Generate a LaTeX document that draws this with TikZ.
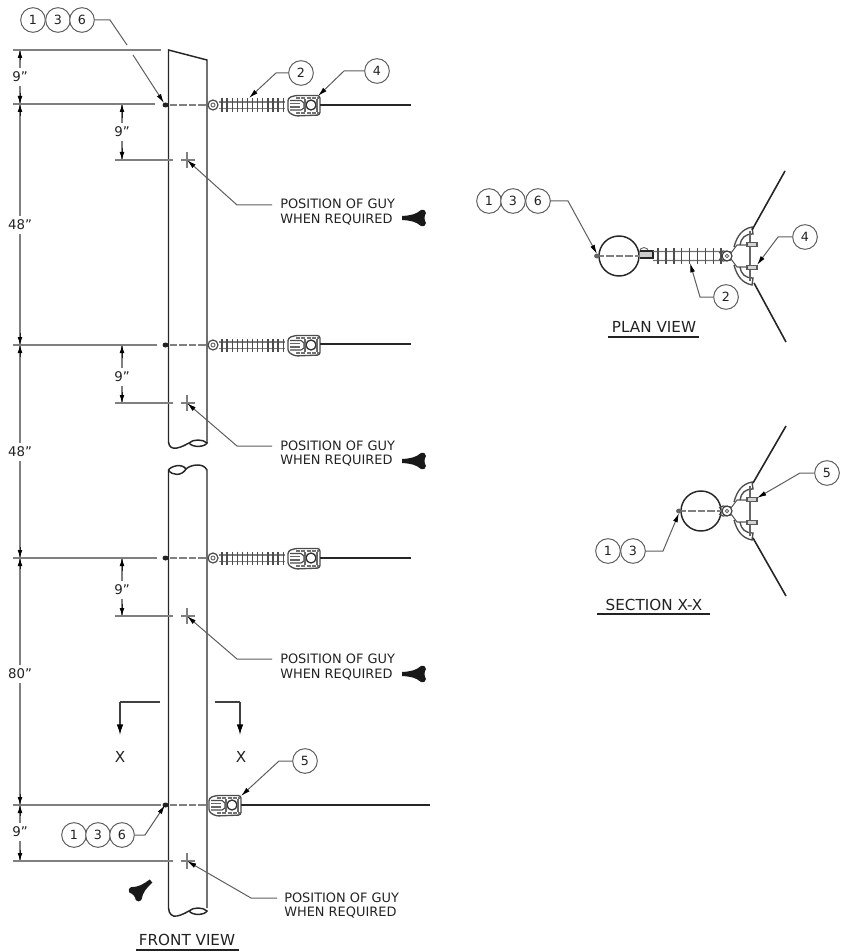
\documentclass[tikz,border=0pt]{standalone}
\usepackage{fontspec}
\setmainfont{DejaVu Sans}
\usetikzlibrary{arrows.meta}
\definecolor{ink}{HTML}{222222}
\definecolor{ext}{HTML}{808080}
\definecolor{lead}{HTML}{5E5E5E}
\newcommand{\guytxt}{POSITION OF GUY\\WHEN REQUIRED}
\tikzset{
  x=0.75pt,y=-0.75pt,
  balloon/.style={circle,draw=lead,line width=0.75pt,fill=white,minimum size=18.5pt,inner sep=0pt,text=ink,font=\fontsize{9.5}{10}\selectfont},
  polel/.style={draw=black!85,line width=1.1pt},
  extl/.style={draw=ext,line width=1pt},
  diml/.style={draw=ext,line width=0.9pt},
  dimarrow/.style={-{Latex[length=6pt,width=3.6pt,color=black]},draw=ink,line width=0.7pt},
  leader/.style={draw=lead,line width=0.75pt,-{Latex[length=7pt,width=3.6pt,color=black]}},
  wire/.style={draw=black!85,line width=1.2pt},
  lbl/.style={text=ink,font=\fontsize{10}{11}\selectfont,inner sep=0pt},
  guylbl/.style={text=ink,font=\fontsize{9.7}{11.2}\selectfont,align=left,anchor=west,inner sep=0pt},
  ttl/.style={text=ink,font=\fontsize{11.4}{12}\selectfont,inner sep=0pt},
  bolt/.style={draw=ext,line width=1.5pt,dash pattern=on 5.5pt off 1.6pt},
  guymark/.pic={\fill[black!90] (0,-2) .. controls (8,-2.5) and (14,-3.5) .. (19,-8) .. controls (22,-9) and (24,-7) .. (24,-5) .. controls (22,-2) and (22,2) .. (24,5) .. controls (24,7) and (22,9) .. (19,8) .. controls (14,3.5) and (8,2.5) .. (0,2) -- cycle;},
  clamp/.pic={
    \draw[draw=black!70,line width=1pt,fill=white,rounded corners=2pt] (1,-7) -- (8,-9.5) -- (33,-9.5) -- (33,10) -- (8,11) -- (1,7) -- cycle;
    \draw[draw=black!70,line width=0.9pt] (3,-4.5) -- (14,-4.5) -- (17,-2) -- (17,3) -- (14,5) -- (3,5);
    \draw[draw=black!60,line width=0.8pt] (3,-1.5) -- (13,-1.5) (3,2) -- (13,2);
    \draw[draw=black!80,line width=1pt] (24,0) circle[radius=5];
    \draw[draw=black!55,line width=1.4pt,dash pattern=on 3pt off 1pt] (9,-7) -- (32,-7) (9,8) -- (32,8);
    \draw[draw=black!60,line width=0.8pt] (30,-6) -- (30,7) (18,-6) -- (18,7);
  },
  insul/.pic={
    \draw[draw=black!70,line width=0.9pt] (6,0) circle[radius=5];
    \draw[draw=black!60,line width=0.7pt] (6,0) circle[radius=2];
    \draw[draw=black!50,line width=0.8pt] (12,-3) -- (78,-3) (12,3.5) -- (78,3.5);
    \foreach \i in {0,...,12} \draw[draw=black!70,line width=1pt] ({15+\i*5.1},-6.5) -- ({15+\i*5.1},7);
  },
  plansul/.pic={
    \draw[draw=black!60,line width=0.7pt] (4,-4) circle[radius=4.5];
    \draw[draw=black!85,line width=1.1pt,fill=ext!40] (0,-5) -- (13,-5) -- (13,2) -- (0,2);
    \draw[draw=black!55,line width=0.8pt] (13,-4.5) -- (80,-4.5) -- (87,-2) (13,4.5) -- (80,4.5) -- (87,2);
    \foreach \i in {0,...,8} \draw[draw=black!70,line width=1.1pt] ({18+\i*7.9},-8) -- ({18+\i*7.9},8);
  },
  fan/.pic={
    \draw[draw=black!70,line width=0.9pt] (-8,-3) -- (-4,-5) -- (4,-4) (-8,3) -- (-4,5) -- (4,4);
    \draw[draw=black!75,line width=0.9pt,fill=white] (0,0) circle[radius=5];
    \draw[draw=black!60,line width=0.7pt] (0,0) circle[radius=1.8];
    \draw[draw=black!65,line width=0.8pt] (4,-3) -- (10,-11) -- (24,-11) (4,3) -- (10,11) -- (24,11);
    \draw[draw=black!70,line width=1pt] (7,-9) .. controls (10,-20) and (15,-27) .. (25,-29) -- (26,-22) .. controls (18,-22) and (14,-18) .. (13,-11);
    \draw[draw=black!70,line width=1pt] (7,9) .. controls (10,20) and (15,27) .. (25,29) -- (26,22) .. controls (18,22) and (14,18) .. (13,11);
    \draw[draw=black!60,line width=0.8pt] (23,-25) -- (23,25);
    \draw[draw=black!65,line width=0.8pt,fill=ext!35] (20,-13.5) rectangle (30,-9.5) (20,9.5) rectangle (30,13.5);
  },
}
\begin{document}
\begin{tikzpicture}
\useasboundingbox (0,0) rectangle (843,952);
% levels
\foreach \n/\yy in {top/50,a/104,ag/160,b/345,bg/403,c/558,cg/616,d/805,dg/861}{
  \coordinate (L\n) at (20,\yy);
  \coordinate (M\n) at (122,\yy);
  \coordinate (G\n) at (187,\yy);
}
% poles
\draw[polel] (168.5,442) -- (168.5,50) -- (207,60) -- (207,443);
\draw[polel] (168.5,442) .. controls (169,447) and (172,449) .. (177,448) .. controls (182,447) and (185,445) .. (189,443) .. controls (193,439) and (203,439) .. (207,443) .. controls (205,447) and (193,448) .. (189,443);
\draw[polel] (168.5,908) -- (168.5,470) .. controls (171,466) and (182,463) .. (186,469) .. controls (190,465) and (203,462) .. (207,470) -- (207,908);
\draw[polel] (168.5,470) .. controls (172,476) and (182,476) .. (186,469);
\draw[polel] (168.5,908) .. controls (169,914) and (172,917) .. (177,916) .. controls (182,915) and (185,913) .. (189,911) .. controls (193,907) and (203,907) .. (207,911) .. controls (205,915) and (193,916) .. (189,911);
% extension lines
\draw[extl] (13,50) -- (161,50);
\draw[extl] (13,104) -- (155,104);
\draw[extl] (13,345) -- (157,345);
\draw[extl] (13,558) -- (157,558);
\draw[extl] (13,805) -- (161,805);
\draw[extl] (13,861) -- (173,861);
\foreach \yy in {160,403,616}{ \draw[extl] (115,\yy) -- (173,\yy); }
\foreach \yy in {160,403,616,861}{
  \draw[extl] (181,\yy) -- (195,\yy);
  \draw[extl] (187,\yy-8) -- (187,\yy+8);
}
% left dimension chain
\node[lbl] (d1) at (20,77) {9"};
\node[lbl] (d2) at (20,225) {48"};
\node[lbl] (d3) at (20,452) {48"};
\node[lbl] (d4) at (20,674) {80"};
\node[lbl] (d5) at (20,832) {9"};
\draw[diml] ([yshift=3pt]d1.north) -- (Ltop);
\draw[dimarrow] (20,60) -- (Ltop);
\draw[diml] ([yshift=-3pt]d1.south) -- (La);
\draw[dimarrow] (20,93) -- (La);
\draw[diml] (La) -- ([yshift=3pt]d2.north);
\draw[dimarrow] (20,116) -- (La);
\draw[diml] ([yshift=-3pt]d2.south) -- (Lb);
\draw[dimarrow] (20,333) -- (Lb);
\draw[diml] (Lb) -- ([yshift=3pt]d3.north);
\draw[dimarrow] (20,357) -- (Lb);
\draw[diml] ([yshift=-3pt]d3.south) -- (Lc);
\draw[dimarrow] (20,547) -- (Lc);
\draw[diml] (Lc) -- ([yshift=3pt]d4.north);
\draw[dimarrow] (20,569) -- (Lc);
\draw[diml] ([yshift=-3pt]d4.south) -- (Ld);
\draw[dimarrow] (20,794) -- (Ld);
\draw[diml] (Ld) -- ([yshift=3pt]d5.north);
\draw[dimarrow] (20,816) -- (Ld);
\draw[diml] ([yshift=-3pt]d5.south) -- (Ldg);
\draw[dimarrow] (20,850) -- (Ldg);
% inner 9 inch dimensions
\node[lbl] (e1) at (122,132) {9"};
\node[lbl] (e2) at (122,377) {9"};
\node[lbl] (e3) at (122,590) {9"};
\draw[diml] ([yshift=3pt]e1.north) -- (Ma); \draw[dimarrow] (122,118) -- (Ma);
\draw[diml] ([yshift=-3pt]e1.south) -- (Mag); \draw[dimarrow] (122,148) -- (Mag);
\draw[diml] ([yshift=3pt]e2.north) -- (Mb); \draw[dimarrow] (122,358) -- (Mb);
\draw[diml] ([yshift=-3pt]e2.south) -- (Mbg); \draw[dimarrow] (122,392) -- (Mbg);
\draw[diml] ([yshift=3pt]e3.north) -- (Mc); \draw[dimarrow] (122,571) -- (Mc);
\draw[diml] ([yshift=-3pt]e3.south) -- (Mcg); \draw[dimarrow] (122,604) -- (Mcg);
% through bolts
\foreach \yy in {105,345,558,805}{
  \draw[bolt] (170,\yy) -- (207,\yy);
  \fill[ink] (165.5,\yy) ellipse[x radius=3,y radius=2.5];
}
% insulators + dead-ends
\pic at (207,105) {insul}; \pic at (287,105) {clamp};
\pic at (207,345) {insul}; \pic at (287,345) {clamp};
\pic at (207,558) {insul}; \pic at (287,558) {clamp};
\pic at (208,805) {clamp};
\draw[wire] (320,105) -- (411,105);
\draw[wire] (320,344) -- (411,344);
\draw[wire] (320,558) -- (411,558);
\draw[wire] (241,805) -- (430,805);
% guy notes
\node[guylbl] (g1) at (280,212) {\guytxt};
\node[guylbl] (g2) at (280,453.5) {\guytxt};
\node[guylbl] (g3) at (280,667) {\guytxt};
\node[guylbl] (g4) at (284,905.5) {\guytxt};
\draw[leader] (272,205) -- (237,205) -- (Gag);
\draw[leader] (272,446) -- (237,446) -- (Gbg);
\draw[leader] (272,659) -- (237,659) -- (Gcg);
\draw[leader] (277,898) -- (251,898) -- (Gdg);
\pic at (402,218) {guymark};
\pic at (402,461) {guymark};
\pic at (402,674) {guymark};
\pic[rotate=220] at (151,881) {guymark};
% balloons front view
\node[balloon] (ta) at (33,20) {1};
\node[balloon] (tb) at (58,20) {3};
\node[balloon] (tc) at (82,20) {6};
\coordinate (tt) at (164,103);
\draw[draw=lead,line width=0.75pt] (tc.east) -- (110,20) -- (127,45);
\draw[leader] (133,55) -- (tt);
\node[balloon] (b2) at (301,73) {2};
\coordinate (t2) at (249,98);
\draw[leader] (b2.west) -- (276,73) -- (t2);
\node[balloon] (b4) at (377,71) {4};
\coordinate (t4) at (318,96);
\draw[leader] (b4.west) -- (344,71) -- (t4);
\node[balloon] (b5) at (305,761) {5};
\coordinate (t5) at (241,796);
\draw[leader] (b5.west) -- (279,761) -- (t5);
\node[balloon] (la) at (74,835) {1};
\node[balloon] (lb) at (98,835) {3};
\node[balloon] (lc) at (122,835) {6};
\coordinate (t6) at (165,805);
\draw[leader] (lc.east) -- (145,835) -- (t6);
% section arrows
\node[ttl] (x1) at (120,757) {X};
\node[ttl] (x2) at (241,757) {X};
\coordinate (x1t) at (120,702);
\coordinate (x2t) at (240,702);
\draw[extl,draw=black!75] (160,702) -- (x1t);
\draw[extl,draw=black!75] (215,702) -- (x2t);
\draw[-{Latex[length=8pt,width=5pt,color=black]},draw=black!75,line width=1pt] (x1t) -- (120,735);
\draw[-{Latex[length=8pt,width=5pt,color=black]},draw=black!75,line width=1pt] (x2t) -- (240,735);
% titles
\node[ttl] (tf) at (187,940) {FRONT VIEW};
\draw[draw=ink,line width=0.9pt] (136,950) -- (239,950);
\node[ttl] (tp) at (654,327) {PLAN VIEW};
\draw[draw=ink,line width=0.9pt] (608,337) -- (699,337);
\node[ttl] (ts) at (654,605) {SECTION X-X};
\draw[draw=ink,line width=0.9pt] (597,614) -- (710,614);
% plan view
\node[draw=black!85,line width=1.1pt,circle,minimum size=30pt,inner sep=0pt] (pc) at (619,256) {};
\draw[bolt] (597,256) -- (640,256);
\fill[ink!70] (597,256) ellipse[x radius=3,y radius=2.5];
\pic at (640,256) {plansul};
\pic at (727,256) {fan};
\coordinate (p1a) at (785,171); \coordinate (p1b) at (752,230);
\coordinate (p2a) at (786,342); \coordinate (p2b) at (754,283);
\draw[wire] (p1a) -- (p1b);
\draw[wire] (p2a) -- (p2b);
\node[balloon] (pa) at (489,201) {1};
\node[balloon] (pb) at (513,201) {3};
\node[balloon] (pd) at (538,201) {6};
\coordinate (pt1) at (597,254);
\draw[leader] (pd.east) -- (568,201) -- (pt1);
\node[balloon] (p4) at (805,237) {4};
\coordinate (pt4) at (757,265);
\draw[leader] (p4.west) -- (778,237) -- (pt4);
\node[balloon] (p2) at (726,297) {2};
\coordinate (pt2) at (690,263);
\draw[leader] (p2.west) -- (700,297) -- (pt2);
% section view
\node[draw=black!85,line width=1.1pt,circle,minimum size=30pt,inner sep=0pt] (sc) at (701,511) {};
\draw[bolt] (679,511) -- (722,511);
\fill[ink!70] (679,511) ellipse[x radius=3,y radius=2.5];
\pic at (727,511) {fan};
\coordinate (s1a) at (786,426); \coordinate (s1b) at (753,483);
\coordinate (s2a) at (786,596); \coordinate (s2b) at (753,538);
\draw[wire] (s1a) -- (s1b);
\draw[wire] (s2a) -- (s2b);
\node[balloon] (sa) at (608,551) {1};
\node[balloon] (sb) at (633,551) {3};
\coordinate (st1) at (679,513);
\draw[leader] (sb.east) -- (663,551) -- (st1);
\node[balloon] (s5) at (827,473) {5};
\coordinate (st5) at (757,498);
\draw[leader] (s5.west) -- (800,473) -- (st5);
\end{tikzpicture}
\end{document}
